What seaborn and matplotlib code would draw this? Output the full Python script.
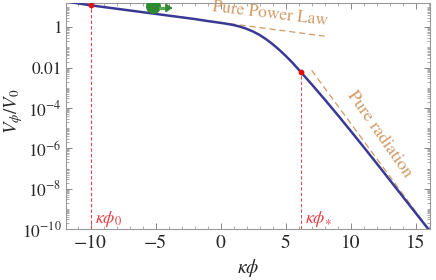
import numpy as np
import pandas as pd
import matplotlib
matplotlib.use("Agg")
import matplotlib.pyplot as plt
import matplotlib.ticker as mticker
import seaborn as sns

# potential curve (kappa*phi, log10 V/V0)
kphi = [-11.5, -10.0, -8.0, -6.0, -4.0, -2.0, -1.0, 0.0, 0.5, 1.0, 1.5, 2.0, 2.5,
        3.0, 3.5, 4.0, 4.5, 5.0, 5.5, 6.15, 7.0, 8.0, 9.0, 10.0, 11.0, 12.0,
        13.0, 14.0, 15.0, 16.0]
log_v = [1.24, 1.09, 0.92, 0.75, 0.58, 0.41, 0.31, 0.22, 0.17, 0.11, 0.03, -0.075,
         -0.21, -0.38, -0.59, -0.835, -1.11, -1.41, -1.735, -2.20, -2.82, -3.57,
         -4.34, -5.13, -5.93, -6.74, -7.56, -8.38, -9.2, -10.02]

# asymptotes (dashed)
power_x = [-11.5, 8.0]
power_log = [1.22, -0.44]
rad_x = [7.0, 16.0]
rad_log = [-2.13, -10.0]

# marked field values
phi0 = -10.0
phi0_log = 1.09
phistar = 6.15
phistar_log = -2.20

# ball position
ball_x, ball_log = -5.2, 1.05

ytick_vals = [1e-10, 1e-8, 1e-6, 1e-4, 1e-2, 1]
ytick_text = [r"$10^{-10}$", r"$10^{-8}$", r"$10^{-6}$", r"$10^{-4}$", "0.01", "1"]
xtick_vals = [-10, -5, 0, 5, 10, 15]
xtick_text = ["\u221210", "\u22125", "0", "5", "10", "15"]

sns.set_style("ticks")
plt.rcParams["font.family"] = ["STIXGeneral", "DejaVu Serif"]
plt.rcParams["mathtext.fontset"] = "stix"

fig = plt.figure(figsize=(4.36, 2.8), dpi=100)
ax = fig.add_axes([0.151, 0.182, 0.835, 0.807])

tan = "#d09a66"
red = "#f04050"
blue = "#3a3a96"

ax.plot(power_x, [10 ** v for v in power_log], ls=(0, (5, 3)), color=tan, lw=0.9, zorder=2)
ax.plot(rad_x, [10 ** v for v in rad_log], ls=(0, (5, 3)), color=tan, lw=0.9, zorder=2)

df = pd.DataFrame({"kphi": kphi, "V": [10 ** v for v in log_v]})
sns.lineplot(data=df, x="kphi", y="V", sort=False, estimator=None,
             color=blue, lw=1.8, ax=ax, zorder=3)

ymin = 1e-10
ax.vlines(phi0, ymin, 10 ** phi0_log, colors=red, linestyles=(0, (3, 2)), lw=0.8, zorder=2)
ax.vlines(phistar, ymin, 10 ** phistar_log, colors="#d05560", linestyles=(0, (3, 2)), lw=0.8, zorder=2)
ax.scatter([phi0, phistar], [10 ** phi0_log, 10 ** phistar_log], s=10, color="#e01010", zorder=4)

ax.text(phi0 + 0.35, 10 ** -9.5, r"$\kappa\phi_0$", color="#e8404a", fontsize=13, va="center")
ax.text(phistar + 0.35, 10 ** -9.5, r"$\kappa\phi_{\ast}$", color="#e8404a", fontsize=13, va="center")

# rolling ball
ax.scatter([ball_x], [10 ** ball_log], s=95, color="#2f8a2f", zorder=5)
for dy in [-0.06, 0.0, 0.06]:
    ax.plot([-4.75, -4.0], [10 ** (0.96 + dy), 10 ** (0.96 + dy)], color="#5aa85a", lw=0.8, zorder=5)
ax.annotate("", xy=(-3.5, 10 ** 0.96), xytext=(-4.1, 10 ** 0.96),
            arrowprops=dict(arrowstyle="-|>,head_width=0.25,head_length=0.35",
                            color="#2f8a2f", lw=1.2), zorder=5)

ax.text(3.8, 10 ** 0.64, "Pure Power Law", color=tan, fontsize=12.5,
        rotation=-7, ha="center", va="center")
ax.text(12.2, 10 ** -5.3, "Pure radiation", color=tan, fontsize=13,
        rotation=-55, ha="center", va="center")

ax.set_yscale("log")
ax.set_xlim(-11.9, 16.1)
ax.set_ylim(1e-10, 10 ** 1.2)

ax.yaxis.set_major_locator(mticker.FixedLocator(ytick_vals))
ax.yaxis.set_major_formatter(mticker.FixedFormatter(ytick_text))
ax.yaxis.set_minor_locator(mticker.LogLocator(base=10, subs=np.arange(1, 10), numticks=40))
ax.yaxis.set_minor_formatter(mticker.NullFormatter())
ax.set_xticks(xtick_vals)
ax.set_xticklabels(xtick_text)
ax.xaxis.set_minor_locator(mticker.MultipleLocator(1))

ax.tick_params(which="both", direction="in", top=True, right=True, color="#888888", pad=4)
ax.tick_params(axis="x", labelsize=14)
ax.tick_params(axis="y", labelsize=12.5, pad=3)
ax.tick_params(which="major", length=4, width=0.7)
ax.tick_params(which="minor", length=2, width=0.5)
for sp in ax.spines.values():
    sp.set_color("#999999")
    sp.set_linewidth(0.8)

ax.set_xlabel(r"$\kappa\phi$", fontsize=14, labelpad=4)
ax.set_ylabel(r"$V_\phi/V_0$", fontsize=13.5)
ax.yaxis.set_label_coords(-0.112, 0.52)

fig.savefig("out.png", dpi=100)
